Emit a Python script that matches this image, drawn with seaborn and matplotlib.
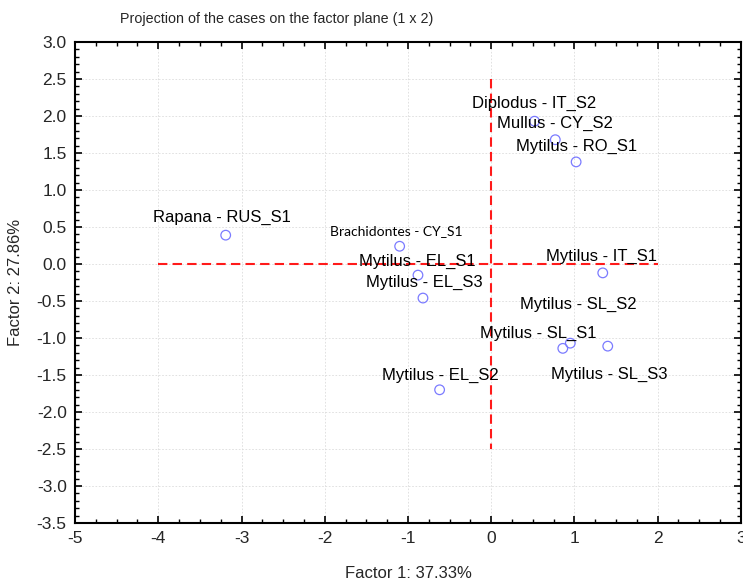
import matplotlib
matplotlib.use("Agg")
import matplotlib.pyplot as plt
from matplotlib.ticker import MultipleLocator
import seaborn as sns
import pandas as pd

# Case coordinates on the first two factors
cases = [
    "Rapana - RUS_S1", "Brachidontes - CY_S1", "Mytilus - EL_S1",
    "Mytilus - EL_S3", "Mytilus - EL_S2", "Diplodus - IT_S2",
    "Mullus - CY_S2", "Mytilus - RO_S1", "Mytilus - IT_S1",
    "Mytilus - SL_S2", "Mytilus - SL_S1", "Mytilus - SL_S3",
]
factor1 = [-3.19, -1.10, -0.88, -0.82, -0.62, 0.52, 0.77, 1.02, 1.34, 0.95, 0.86, 1.40]
factor2 = [0.39, 0.24, -0.15, -0.46, -1.70, 1.93, 1.68, 1.38, -0.12, -1.07, -1.14, -1.11]

x_label = "Factor 1: 37.33%"
y_label = "Factor 2: 27.86%"
title = "Projection of the cases on the factor plane (1 x 2)"

# Label placement (pixel offsets from each point)
label_offsets = [(-4, 18), (-3, 15), (-1, 14), (1, 16), (1, 14), (0, 18),
                 (0, 16), (0, 15), (-1, 16), (8, 39), (-25, 15), (2, -28)]

df = pd.DataFrame({"case": cases, "f1": factor1, "f2": factor2})

sns.set_style("white")
plt.rcParams["font.family"] = ["Liberation Sans", "DejaVu Sans"]
plt.rcParams["axes.unicode_minus"] = False

fig = plt.figure(figsize=(7.43, 5.84), dpi=100)
ax = fig.add_axes([0.101, 0.1045, 0.8962, 0.8235])

ax.grid(True, which="major", color="#dcdcdc", linestyle=(0, (2, 2)), linewidth=0.6)
ax.set_axisbelow(True)

# Origin reference lines
ax.plot([-4, 2], [0, 0], color="#ff1a1a", linestyle=(0, (4.5, 2.5)), linewidth=1.5, zorder=2)
ax.plot([0, 0], [2.5, -2.5], color="#ff1a1a", linestyle=(0, (4.5, 2.5)), linewidth=1.5, zorder=2)

sns.scatterplot(data=df, x="f1", y="f2", ax=ax, marker="o", s=48,
                facecolors="none", edgecolor="#7b7bff", linewidth=0.9, zorder=3)

for name, x, y, (dx, dy) in zip(cases, factor1, factor2, label_offsets):
    if name.startswith("Brachidontes"):
        kw = dict(fontsize=10, family=["Lato", "DejaVu Sans"])
    else:
        kw = dict(fontsize=12)
    ax.annotate(name, (x, y), xytext=(dx, dy), textcoords="offset pixels",
                ha="center", va="center", color="black", zorder=4, **kw)

ax.set_xlim(-5, 3)
ax.set_ylim(-3.5, 3.0)
ax.xaxis.set_major_locator(MultipleLocator(1))
ax.xaxis.set_minor_locator(MultipleLocator(0.25))
ax.yaxis.set_major_locator(MultipleLocator(0.5))
ax.yaxis.set_minor_locator(MultipleLocator(0.1))
ax.yaxis.set_major_formatter(matplotlib.ticker.FormatStrFormatter("%.1f"))

ax.tick_params(which="both", direction="in", top=True, right=True,
               bottom=True, left=True, color="black")
ax.tick_params(which="major", length=5, width=1.2, labelsize=12.5, pad=6)
ax.tick_params(which="minor", length=3, width=1.0)

for sp in ax.spines.values():
    sp.set_color("black")
    sp.set_linewidth(1.5)

ax.set_xlabel(x_label, fontsize=12, labelpad=14)
ax.set_ylabel(y_label, fontsize=12, labelpad=10)
fig.text(0.1615, 0.967, title, fontsize=10.3, ha="left", va="center")

fig.savefig("out.png", dpi=100)
